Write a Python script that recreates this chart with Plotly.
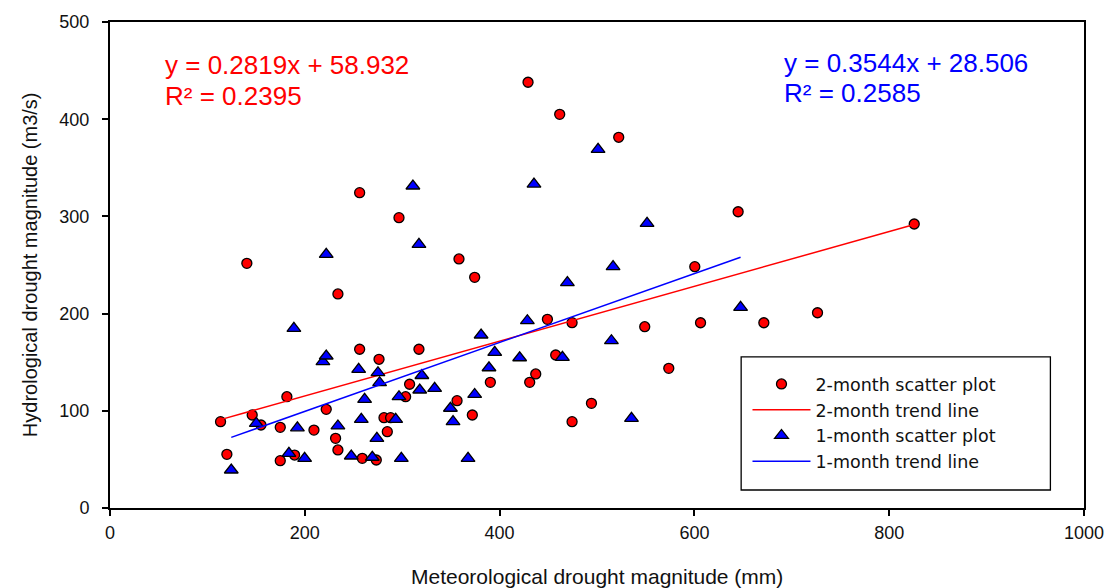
import plotly.graph_objects as go

# 2-month series: meteorological vs hydrological drought magnitude
x_2month = [113.5, 120, 140.5, 146, 155, 174.8, 174.8, 181.6, 189.5, 209.4,
            222, 231.6, 234, 234, 256.3, 256.3, 259, 273.4, 276.2, 281.3,
            288.1, 284.7, 296.7, 303.5, 307.6, 317.2, 356.3, 358.3, 372, 374.4,
            390.5, 429.2, 430.9, 437.1, 449.1, 457.6, 461.7, 474.4, 474.4, 494.3,
            522.3, 549, 573.7, 600.4, 606.3, 644.9, 671.3, 726.4, 825.7]
y_2month = [88.8, 55.2, 251.7, 95.7, 85.4, 83, 48.7, 114.5, 54.5, 80.2,
            101.5, 71.7, 59.7, 220.2, 324.4, 163.3, 51.1, 49.4, 153, 92.9,
            92.9, 78.5, 298.7, 114.5, 127.3, 163.3, 110.4, 256.2, 95.7, 237.3,
            129.3, 438, 129.3, 137.9, 194.1, 157.4, 405, 190.7, 88.8, 107.7,
            381.4, 186.5, 143.7, 248.3, 190.6, 304.8, 190.6, 200.9, 292.2]

# 1-month series
x_1month = [124.5, 150.2, 183.7, 188.8, 192.4, 199.8, 218.6, 222, 222, 234,
            247.7, 255.3, 258, 261.4, 269.3, 274, 275.1, 276.8, 293.3, 296.7,
            299.1, 311, 317.2, 318, 320.2, 333.3, 349.5, 352.2, 367.6, 374.4,
            381, 389.1, 395, 420.6, 428.5, 435.3, 464.5, 469.6, 501.1, 514.8,
            516.5, 535.4, 551.4, 647.4]
y_1month = [39.1, 87.1, 56.3, 184.9, 82.5, 51.1, 150.5, 156.4, 261, 84.4,
            53.5, 142.7, 91.2, 111.8, 52.2, 71.7, 139.2, 128.9, 91.2, 114.5,
            51.1, 331.3, 271.3, 121.4, 136.3, 123.1, 102.6, 88.8, 51.1, 116.8,
            178, 144.3, 160.2, 154.6, 192.7, 333.3, 155, 231.8, 369, 172.1,
            248.3, 92.3, 292.9, 206.5]

# Linear fits (slope, intercept, R squared)
fit_2month = (0.2819, 58.932, 0.2395)
fit_1month = (0.3544, 28.506, 0.2585)

x_ticks = [0, 200, 400, 600, 800, 1000]
y_ticks = [0, 100, 200, 300, 400, 500]

RED = "#FF0000"
BLUE = "#0000FF"
INK = "#111111"
SANS = "Liberation Sans, Arial, sans-serif"
WIDE = "DejaVu Sans, Verdana, sans-serif"


def trend(xs, fit):
    lo, hi = min(xs), max(xs)
    return [lo, hi], [fit[0] * lo + fit[1], fit[0] * hi + fit[1]]


fig = go.Figure()

fig.add_trace(go.Scatter(
    x=x_2month, y=y_2month, mode="markers", name="2-month scatter plot",
    legendgroup="a",
    marker=dict(symbol="circle", size=10, color=RED,
                line=dict(color="black", width=1.3)),
))
tx, ty = trend(x_2month, fit_2month)
fig.add_trace(go.Scatter(
    x=tx, y=ty, mode="lines", name="2-month trend line", legendgroup="b",
    line=dict(color=RED, width=1.5),
))
fig.add_trace(go.Scatter(
    x=x_1month, y=y_1month, mode="markers", name="1-month scatter plot",
    legendgroup="c",
    marker=dict(symbol="triangle-up", size=12, color=BLUE,
                line=dict(color="black", width=1.3)),
))
tx, ty = trend(x_1month, fit_1month)
fig.add_trace(go.Scatter(
    x=tx, y=ty, mode="lines", name="1-month trend line", legendgroup="d",
    line=dict(color=BLUE, width=1.5),
))

axis_common = dict(
    showline=True, linecolor="black", linewidth=2, mirror=True,
    ticks="outside", ticklen=6, tickwidth=1.5, tickcolor="black",
    showgrid=False, zeroline=False, automargin=False,
    tickfont=dict(family=SANS, size=18, color=INK),
)

fig.update_xaxes(range=[0, 1000], tickvals=x_ticks, ticklabelstandoff=1,
                 **axis_common)
fig.update_yaxes(range=[0, 500], tickvals=y_ticks, ticklabelstandoff=9,
                 **axis_common)

# axis titles
fig.add_annotation(
    text="Meteorological drought magnitude (mm)", x=0.5, y=-0.14,
    xref="paper", yref="paper", xanchor="center", yanchor="middle",
    showarrow=False, font=dict(family=SANS, size=21, color=INK),
)
fig.add_annotation(
    text="Hydrological drought magnitude (m3/s)", x=-0.082, y=0.5,
    xref="paper", yref="paper", xanchor="center", yanchor="middle",
    textangle=-90, showarrow=False, font=dict(family=SANS, size=20, color=INK),
)


def eq_text(fit):
    return f"y = {fit[0]}x + {fit[1]}"


annotations = [
    dict(text=eq_text(fit_2month), x=0.054, y=0.9115, color=RED),
    dict(text=f"R² = {fit_2month[2]}", x=0.054, y=0.848, color=RED),
    dict(text=eq_text(fit_1month), x=0.69, y=0.9156, color=BLUE),
    dict(text=f"R² = {fit_1month[2]}", x=0.69, y=0.854, color=BLUE),
]
for a in annotations:
    fig.add_annotation(
        text=a["text"], x=a["x"], y=a["y"], xref="paper", yref="paper",
        xanchor="left", yanchor="middle", showarrow=False,
        font=dict(family=SANS, size=26, color=a["color"]),
    )

# legend frame
fig.add_shape(type="rect", xref="paper", yref="paper",
              x0=0.648, x1=0.9655, y0=0.037, y1=0.311,
              line=dict(color="black", width=1.3), fillcolor="white",
              layer="below")

fig.update_layout(
    width=1105, height=588,
    margin=dict(l=110, r=21, t=22, b=80),
    paper_bgcolor="white", plot_bgcolor="white",
    legend=dict(x=0.6545, y=0.292, xanchor="left", yanchor="top",
                bgcolor="rgba(0,0,0,0)", borderwidth=0,
                font=dict(family=WIDE, size=17.5, color=INK),
                tracegroupgap=0, itemwidth=58),
    showlegend=True,
)

fig.write_html("out.html")
